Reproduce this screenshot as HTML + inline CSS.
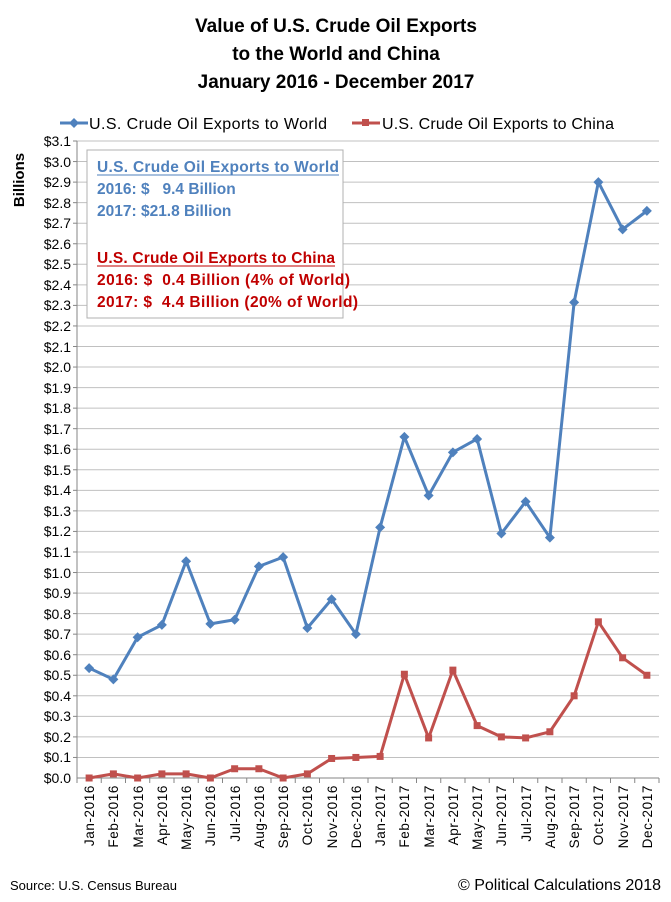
<!DOCTYPE html>
<html><head><meta charset="utf-8"><style>
html,body{margin:0;padding:0;background:#fff}
svg{display:block;font-family:"Liberation Sans",sans-serif}
.pre{white-space:pre}
</style></head><body>
<svg width="671" height="902" viewBox="0 0 671 902" xmlns="http://www.w3.org/2000/svg">
<rect width="671" height="902" fill="#fff"/>
<g font-weight="bold" font-size="19" text-anchor="middle" fill="#000">
<text x="336" y="32">Value of U.S. Crude Oil Exports</text>
<text x="336" y="60">to the World and China</text>
<text x="336" y="88">January 2016 - December 2017</text>
</g>
<g font-size="16" fill="#000">
<line x1="60" y1="123" x2="88" y2="123" stroke="#4f81bd" stroke-width="3"/>
<path d="M74 118 L79 123 L74 128 L69 123Z" fill="#4f81bd"/>
<text x="89" y="129" textLength="238">U.S. Crude Oil Exports to World</text>
<line x1="352" y1="123" x2="380" y2="123" stroke="#c0504d" stroke-width="3"/>
<rect x="362" y="119" width="7" height="7" fill="#c0504d"/>
<text x="382" y="129" textLength="232">U.S. Crude Oil Exports to China</text>
</g>
<text transform="translate(24,180) rotate(-90)" text-anchor="middle" font-weight="bold" font-size="15">Billions</text>
<g id="grid" stroke="#c0c0c0" stroke-width="1"></g>
<line x1="77" y1="141" x2="77" y2="778" stroke="#868686"/>
<line x1="77" y1="778" x2="659" y2="778" stroke="#868686"/>
<g id="ticks" stroke="#868686"></g>
<g font-size="14" text-anchor="end" fill="#000">
<text x="71" y="783">$0.0</text><text x="71" y="762">$0.1</text><text x="71" y="742">$0.2</text><text x="71" y="721">$0.3</text><text x="71" y="701">$0.4</text><text x="71" y="680">$0.5</text><text x="71" y="660">$0.6</text><text x="71" y="639">$0.7</text><text x="71" y="619">$0.8</text><text x="71" y="598">$0.9</text><text x="71" y="578">$1.0</text><text x="71" y="557">$1.1</text><text x="71" y="536">$1.2</text><text x="71" y="516">$1.3</text><text x="71" y="495">$1.4</text><text x="71" y="475">$1.5</text><text x="71" y="454">$1.6</text><text x="71" y="434">$1.7</text><text x="71" y="413">$1.8</text><text x="71" y="393">$1.9</text><text x="71" y="372">$2.0</text><text x="71" y="352">$2.1</text><text x="71" y="331">$2.2</text><text x="71" y="310">$2.3</text><text x="71" y="290">$2.4</text><text x="71" y="269">$2.5</text><text x="71" y="249">$2.6</text><text x="71" y="228">$2.7</text><text x="71" y="208">$2.8</text><text x="71" y="187">$2.9</text><text x="71" y="167">$3.0</text><text x="71" y="146">$3.1</text>
</g>
<g font-size="13.5" text-anchor="end" fill="#000" letter-spacing="0.6">
<text transform="translate(94,785) rotate(-90)">Jan-2016</text>
<text transform="translate(118,785) rotate(-90)">Feb-2016</text>
<text transform="translate(143,785) rotate(-90)">Mar-2016</text>
<text transform="translate(167,785) rotate(-90)">Apr-2016</text>
<text transform="translate(191,785) rotate(-90)">May-2016</text>
<text transform="translate(215,785) rotate(-90)">Jun-2016</text>
<text transform="translate(240,785) rotate(-90)">Jul-2016</text>
<text transform="translate(264,785) rotate(-90)">Aug-2016</text>
<text transform="translate(288,785) rotate(-90)">Sep-2016</text>
<text transform="translate(312,785) rotate(-90)">Oct-2016</text>
<text transform="translate(337,785) rotate(-90)">Nov-2016</text>
<text transform="translate(361,785) rotate(-90)">Dec-2016</text>
<text transform="translate(385,785) rotate(-90)">Jan-2017</text>
<text transform="translate(409,785) rotate(-90)">Feb-2017</text>
<text transform="translate(434,785) rotate(-90)">Mar-2017</text>
<text transform="translate(458,785) rotate(-90)">Apr-2017</text>
<text transform="translate(482,785) rotate(-90)">May-2017</text>
<text transform="translate(506,785) rotate(-90)">Jun-2017</text>
<text transform="translate(531,785) rotate(-90)">Jul-2017</text>
<text transform="translate(555,785) rotate(-90)">Aug-2017</text>
<text transform="translate(579,785) rotate(-90)">Sep-2017</text>
<text transform="translate(603,785) rotate(-90)">Oct-2017</text>
<text transform="translate(628,785) rotate(-90)">Nov-2017</text>
<text transform="translate(652,785) rotate(-90)">Dec-2017</text>
</g>
<polyline id="world" fill="none" stroke="#4f81bd" stroke-width="3" stroke-linejoin="round"/>
<polyline id="china" fill="none" stroke="#c0504d" stroke-width="3" stroke-linejoin="round"/>
<g id="mk"></g>
<rect x="87" y="150" width="256" height="168" fill="#fff" stroke="#b0b0b0"/>
<g font-weight="bold" font-size="15.5">
<text x="97" y="172" fill="#4f81bd" textLength="242">U.S. Crude Oil Exports to World</text>
<line x1="97" y1="175" x2="339" y2="175" stroke="#4f81bd"/>
<text class="pre" x="97" y="194" fill="#4f81bd">2016: $   9.4 Billion</text>
<text x="97" y="216" fill="#4f81bd">2017: $21.8 Billion</text>
<text x="97" y="263" fill="#c00000" textLength="238">U.S. Crude Oil Exports to China</text>
<line x1="97" y1="266" x2="335" y2="266" stroke="#c00000"/>
<text class="pre" x="97" y="285" fill="#c00000" textLength="253">2016: $  0.4 Billion (4% of World)</text>
<text class="pre" x="97" y="307" fill="#c00000" textLength="261">2017: $  4.4 Billion (20% of World)</text>
</g>
<text x="10" y="890" font-size="13">Source: U.S. Census Bureau</text>
<text x="661" y="890" font-size="16" text-anchor="end">© Political Calculations 2018</text>
<script>
var w=[.535,.48,.685,.745,1.055,.75,.77,1.03,1.075,.73,.87,.70,1.22,1.66,1.375,1.585,1.65,1.19,1.345,1.17,2.315,2.90,2.67,2.76];
var c=[0,.02,0,.02,.02,0,.045,.045,0,.02,.095,.10,.105,.505,.195,.525,.255,.20,.195,.225,.40,.76,.585,.50];
function X(i){return 77+24.25*(i+0.5);}function Y(v){return 778-v*205.48;}
var ns="http://www.w3.org/2000/svg",g=document.getElementById('grid'),t=document.getElementById('ticks'),m=document.getElementById('mk');
for(var k=1;k<=31;k++){var l=document.createElementNS(ns,'line');var y=Y(k/10);l.setAttribute('x1',77);l.setAttribute('x2',659);l.setAttribute('y1',y);l.setAttribute('y2',y);g.appendChild(l);
var q=document.createElementNS(ns,'line');q.setAttribute('x1',73);q.setAttribute('x2',77);q.setAttribute('y1',y);q.setAttribute('y2',y);t.appendChild(q);}
for(var i=0;i<=24;i++){var q=document.createElementNS(ns,'line');var x=77+24.25*i;q.setAttribute('x1',x);q.setAttribute('x2',x);q.setAttribute('y1',778);q.setAttribute('y2',783);t.appendChild(q);}
var pw=[],pc=[];
for(var i=0;i<24;i++){var x=X(i);pw.push(x+','+Y(w[i]));pc.push(x+','+Y(c[i]));
var d=document.createElementNS(ns,'path');var y=Y(w[i]);d.setAttribute('d','M'+x+' '+(y-5)+' L'+(x+5)+' '+y+' L'+x+' '+(y+5)+' L'+(x-5)+' '+y+'Z');d.setAttribute('fill','#4f81bd');m.appendChild(d);
var r=document.createElementNS(ns,'rect');y=Y(c[i]);r.setAttribute('x',x-3.5);r.setAttribute('y',y-3.5);r.setAttribute('width',7);r.setAttribute('height',7);r.setAttribute('fill','#c0504d');m.appendChild(r);}
document.getElementById('world').setAttribute('points',pw.join(' '));
document.getElementById('china').setAttribute('points',pc.join(' '));
</script>
</svg>
</body></html>
